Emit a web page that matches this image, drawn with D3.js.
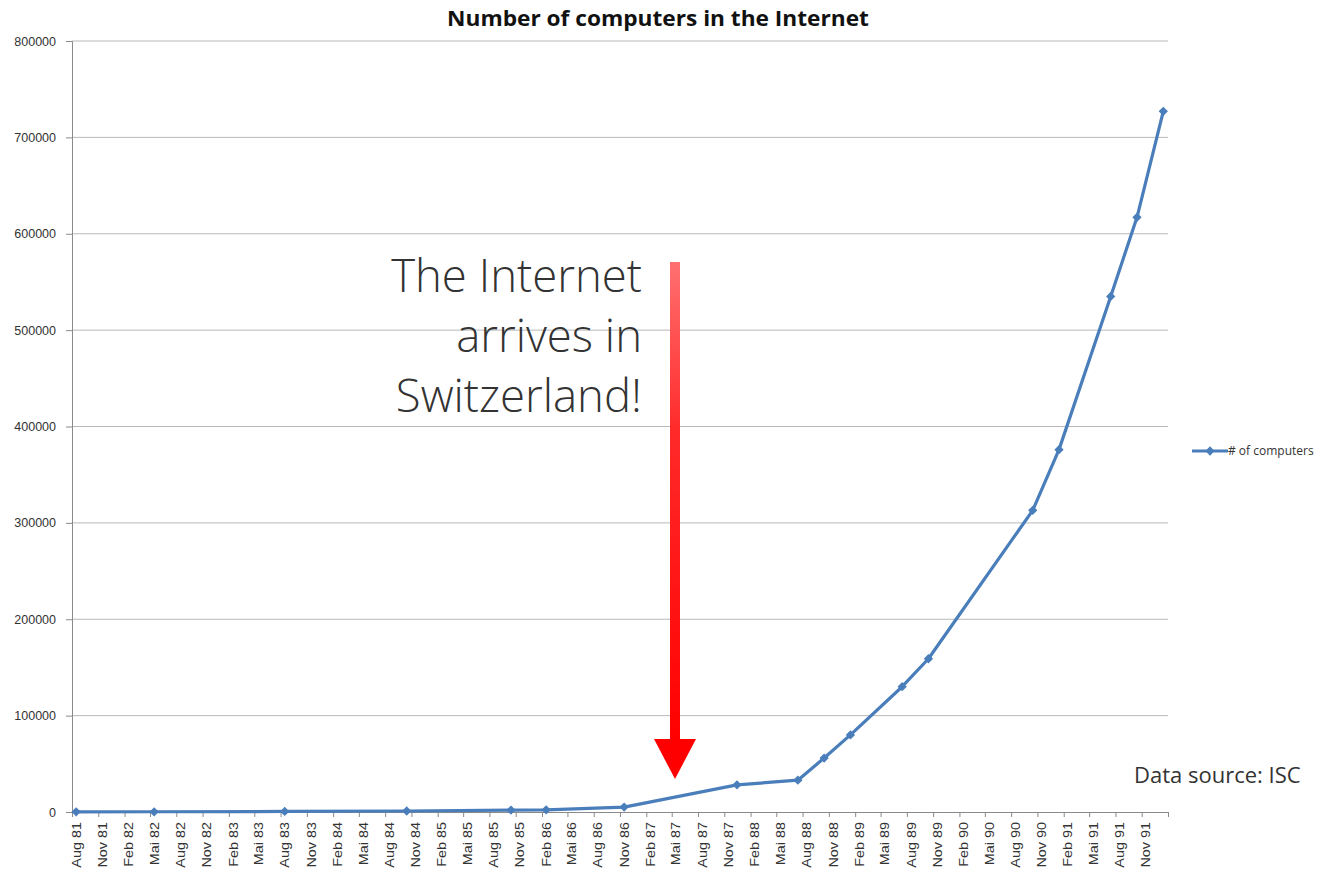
<!DOCTYPE html>
<html>
<head>
<meta charset="utf-8">
<script src="https://cdn.jsdelivr.net/npm/d3@7"></script>
<style>
  html, body { margin: 0; padding: 0; background: #fff; }
  svg { display: block; }
</style>
</head>
<body>
<svg id="chart" width="1326" height="873"></svg>
<script>
// ---- data ----
const pointDates = ["1981-08","1982-05","1983-08","1984-10","1985-10","1986-02","1986-11",
  "1987-12","1988-07","1988-10","1989-01","1989-07","1989-10","1990-10","1991-01",
  "1991-07","1991-10","1992-01"];
const hostCounts = [213, 235, 562, 1024, 1961, 2308, 5089,
  28174, 33000, 56000, 80000, 130000, 159000, 313000, 376000,
  535000, 617000, 727000];
const tickLabels = ["Aug 81","Nov 81","Feb 82","Mai 82","Aug 82","Nov 82","Feb 83","Mai 83",
  "Aug 83","Nov 83","Feb 84","Mai 84","Aug 84","Nov 84","Feb 85","Mai 85","Aug 85","Nov 85",
  "Feb 86","Mai 86","Aug 86","Nov 86","Feb 87","Mai 87","Aug 87","Nov 87","Feb 88","Mai 88",
  "Aug 88","Nov 88","Feb 89","Mai 89","Aug 89","Nov 89","Feb 90","Mai 90","Aug 90","Nov 90",
  "Feb 91","Mai 91","Aug 91","Nov 91"];
const tickMonths = ["1981-08","1981-11","1982-02","1982-05","1982-08","1982-11","1983-02","1983-05",
  "1983-08","1983-11","1984-02","1984-05","1984-08","1984-11","1985-02","1985-05","1985-08","1985-11",
  "1986-02","1986-05","1986-08","1986-11","1987-02","1987-05","1987-08","1987-11","1988-02","1988-05",
  "1988-08","1988-11","1989-02","1989-05","1989-08","1989-11","1990-02","1990-05","1990-08","1990-11",
  "1991-02","1991-05","1991-08","1991-11"];
const yTicks = [0,100000,200000,300000,400000,500000,600000,700000,800000];
const title = "Number of computers in the Internet";
const seriesName = "# of computers";
const annotationLines = ["The Internet","arrives in","Switzerland!"];
const sourceNote = "Data source: ISC";

// ---- layout ----
const svg = d3.select("#chart");
const M = { left: 72, right: 1168, top: 41, bottom: 812 };
const parseMonth = d3.timeParse("%Y-%m");
const monthStart = s => parseMonth(s);
const monthMid = s => { const d = parseMonth(s); return new Date(d.getFullYear(), d.getMonth(), 15, 12); };

const x = d3.scaleTime()
  .domain([parseMonth("1981-08"), parseMonth("1992-02")])
  .range([M.left, M.right]);
const y = d3.scaleLinear().domain([0, 800000]).range([M.bottom, M.top]);

const blue = "#4a7ebb";

// gridlines
svg.append("g").selectAll("line").data(yTicks.filter(d => d > 0)).join("line")
  .attr("x1", M.left).attr("x2", M.right)
  .attr("y1", d => y(d)).attr("y2", d => y(d))
  .attr("stroke", "#b8b8b8").attr("stroke-width", 1);

// y axis
const yAxis = svg.append("g").attr("transform", `translate(${M.left},0)`)
  .call(d3.axisLeft(y).tickValues(yTicks).tickFormat(d3.format("d")).tickSize(6).tickPadding(10));
yAxis.select(".domain").attr("stroke", "#8a8a8a");
yAxis.selectAll(".tick line").attr("stroke", "#8a8a8a");
yAxis.selectAll("text").attr("font-family", "Liberation Sans, Arial, sans-serif")
  .attr("font-size", 12.5).attr("fill", "#333");

// x axis: ticks at start of labelled months, labels at mid month
const xAxisG = svg.append("g").attr("transform", `translate(0,${M.bottom})`);
const tickDates = tickMonths.map(monthStart).concat([parseMonth("1992-02")]);
xAxisG.call(d3.axisBottom(x).tickValues(tickDates).tickFormat("").tickSize(5));
xAxisG.select(".domain").attr("stroke", "#8a8a8a");
xAxisG.selectAll(".tick line").attr("stroke", "#8a8a8a");
xAxisG.append("g").selectAll("text").data(tickMonths).join("text")
  .attr("transform", (d) => `translate(${x(monthMid(d)) + 4.5},10) rotate(-90) scale(1.2,1)`)
  .attr("text-anchor", "end")
  .attr("font-family", "Liberation Sans, Arial, sans-serif")
  .attr("font-size", 12).attr("fill", "#333")
  .text((d, i) => tickLabels[i]);

// series line
const pts = pointDates.map((d, i) => ({ date: monthMid(d), v: hostCounts[i] }));
svg.append("path").datum(pts)
  .attr("fill", "none").attr("stroke", blue).attr("stroke-width", 3.2)
  .attr("stroke-linejoin", "round")
  .attr("d", d3.line().x(d => x(d.date)).y(d => y(d.v)));
const diamond = d3.symbol().type(d3.symbolDiamond2).size(55);
svg.append("g").selectAll("path").data(pts).join("path")
  .attr("transform", d => `translate(${x(d.date)},${y(d.v)})`)
  .attr("d", diamond).attr("fill", blue);

// title
svg.append("text").attr("transform", "translate(658,26) scale(1.08,1)").attr("text-anchor", "middle")
  .attr("font-family", "Open Sans, sans-serif").attr("font-weight", "bold")
  .attr("font-size", 21).attr("fill", "#111").text(title);

// legend
const lg = svg.append("g").attr("transform", "translate(1192,451)");
lg.append("line").attr("x1", 0).attr("x2", 36).attr("stroke", blue).attr("stroke-width", 3);
lg.append("path").attr("transform", "translate(18,0)").attr("d", diamond).attr("fill", blue);
lg.append("text").attr("x", 36).attr("y", 4)
  .attr("font-family", "Open Sans, sans-serif").attr("font-size", 12).attr("fill", "#333")
  .text(seriesName);

// annotation text
svg.append("g").selectAll("text").data(annotationLines).join("text")
  .attr("x", 642).attr("y", (d, i) => 292 + i * 60)
  .attr("text-anchor", "end")
  .attr("font-family", "Open Sans, sans-serif").attr("font-weight", 300)
  .attr("font-size", 45.5).attr("fill", "#333").text(d => d);

// red arrow
const defs = svg.append("defs");
const grad = defs.append("linearGradient").attr("id", "arrowGrad")
  .attr("x1", 0).attr("y1", 0).attr("x2", 0).attr("y2", 1);
grad.append("stop").attr("offset", "0%").attr("stop-color", "#ff7070");
grad.append("stop").attr("offset", "35%").attr("stop-color", "#ff2a2a");
grad.append("stop").attr("offset", "100%").attr("stop-color", "#ff0000");
const ax = 675;
svg.append("rect").attr("x", ax - 5).attr("y", 262).attr("width", 10).attr("height", 480)
  .attr("fill", "url(#arrowGrad)");
svg.append("path").attr("d", `M${ax - 21},739 L${ax + 21},739 L${ax},779 Z`).attr("fill", "#ff0000");

// data source
svg.append("text").attr("x", 1134).attr("y", 783)
  .attr("font-family", "Open Sans, sans-serif").attr("font-size", 22).attr("fill", "#333")
  .text(sourceNote);
</script>
</body>
</html>
